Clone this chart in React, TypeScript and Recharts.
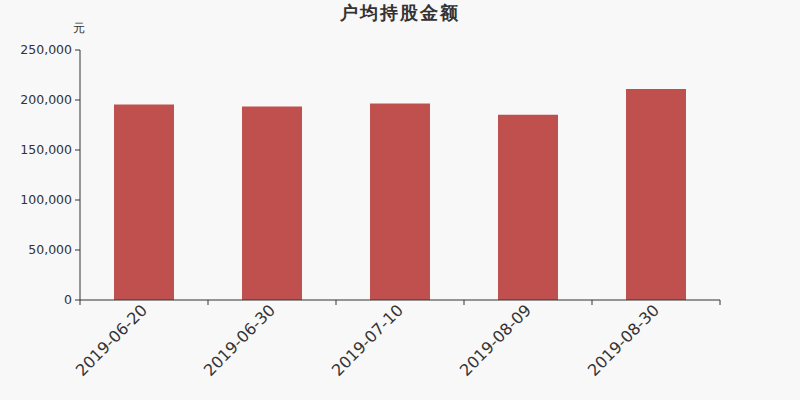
import React from "react";
import { BarChart, Bar, XAxis, YAxis } from "recharts";

const dates = ["2019-06-20", "2019-06-30", "2019-07-10", "2019-08-09", "2019-08-30"];
const amounts = [195500, 193500, 196500, 185300, 211000];
const yTicks = [0, 50000, 100000, 150000, 200000, 250000];

const data = dates.map((d, i) => ({ date: d, value: amounts[i] }));

const W = 800;
const H = 400;
const LEFT = 80;
const RIGHT = 80;
const BAND = (W - LEFT - RIGHT) / dates.length;
const FONT = "DejaVu Sans, sans-serif";

// echarts-style category tick: tick marks on band edges, label rotated 45deg
function DateTick(props: any) {
  const { x, y, payload, index } = props;
  const last = index === dates.length - 1;
  const tx = x + 1;
  const ty = y;
  return (
    <g>
      <line x1={x - BAND / 2} x2={x - BAND / 2} y1={y - 8} y2={y - 3} stroke="#333" />
      {last && <line x1={x + BAND / 2} x2={x + BAND / 2} y1={y - 8} y2={y - 3} stroke="#333" />}
      <text
        x={tx}
        y={ty}
        transform={`rotate(-45 ${tx} ${ty})`}
        textAnchor="end"
        dominantBaseline="middle"
        fontSize={16}
        fontFamily={FONT}
        fill="#333"
      >
        {payload.value}
      </text>
    </g>
  );
}

export default function App() {
  return (
    <div style={{ position: "absolute", left: 0, top: 0, width: W, height: H, background: "#f8f8f8" }}>
      <div
        style={{
          position: "absolute",
          left: 0,
          width: W,
          top: 1,
          textAlign: "center",
          fontFamily: FONT,
          fontWeight: "bold",
          fontSize: 18,
          color: "#333",
          letterSpacing: 2,
        }}
      >
        户均持股金额
      </div>
      <div style={{ position: "absolute", left: 73, top: 20, fontFamily: FONT, fontSize: 12, color: "#333" }}>
        元
      </div>
      <BarChart
        width={W}
        height={H}
        data={data}
        margin={{ top: 50, right: RIGHT, bottom: 0, left: 0 }}
        barSize={60}
      >
        <XAxis
          dataKey="date"
          height={100}
          axisLine={{ stroke: "#333" }}
          tickLine={false}
          tick={<DateTick />}
          interval={0}
        />
        <YAxis
          width={LEFT}
          domain={[0, 250000]}
          ticks={yTicks}
          axisLine={{ stroke: "#333" }}
          tickLine={{ stroke: "#333" }}
          tickSize={5}
          tickMargin={3}
          tickFormatter={(v: number) => v.toLocaleString("en-US")}
          tick={{ fill: "#333", fontSize: 12.5, fontFamily: FONT }}
        />
        <Bar dataKey="value" fill="#c0504d" isAnimationActive={false} />
      </BarChart>
    </div>
  );
}
